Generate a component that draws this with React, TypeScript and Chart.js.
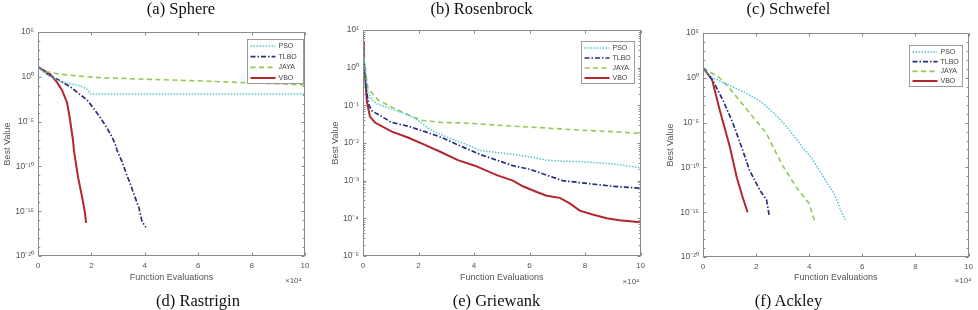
import React, { useEffect, useRef } from "react";
import { Chart, registerables } from "chart.js";

Chart.register(...registerables);

// ---------- labels ----------
const SERIES_NAMES = ["PSO", "TLBO", "JAYA", "VBO"];
const TOP_CAPTIONS = ["(a) Sphere", "(b) Rosenbrock", "(c) Schwefel"];
const BOTTOM_CAPTIONS = ["(d) Rastrigin", "(e) Griewank", "(f) Ackley"];

const X_TICK_VALUES = [0, 20000, 40000, 60000, 80000, 100000];
const X_TICK_LABELS = ["0", "2", "4", "6", "8", "10"];

const WIDE_Y_TICKS = [1e5, 1e0, 1e-5, 1e-10, 1e-15, 1e-20];
const WIDE_Y_LABELS = ["10⁵", "10⁰", "10⁻⁵", "10⁻¹⁰", "10⁻¹⁵", "10⁻²⁰"];
const ROSEN_Y_TICKS = [1e1, 1e0, 1e-1, 1e-2, 1e-3, 1e-4, 1e-5];
const ROSEN_Y_LABELS = ["10¹", "10⁰", "10⁻¹", "10⁻²", "10⁻³", "10⁻⁴", "10⁻⁵"];

// ---------- (a) Sphere ----------
const aPsoX = [0, 1500, 3400, 6000, 9000, 10900, 15700, 18000, 18700, 19500, 40000, 60000, 80000, 100000];
const aPsoY = [12.6, 5, 2.0, 0.63, 0.28, 0.2, 0.1, 0.05, 0.032, 0.012, 0.012, 0.012, 0.012, 0.012];
const aTlboX = [0, 3400, 8000, 12000, 15000, 18400, 20500, 23200, 25800, 27500, 28800, 29600, 31500, 33300, 34500, 36300, 37800, 39000, 40400];
const aTlboY = [12.6, 2.0, 0.4, 0.079, 0.016, 2.5e-3, 4e-4, 3.2e-5, 2e-6, 2.5e-7, 4e-8, 6.3e-9, 3.2e-10, 1e-11, 1.26e-12, 4e-14, 2.5e-15, 6.3e-17, 1.6e-17];
const aJayaX = [0, 2000, 3400, 8000, 15000, 23000, 42000, 61000, 80000, 100000];
const aJayaY = [12.6, 6.3, 3.7, 2.0, 1.26, 0.8, 0.52, 0.34, 0.21, 0.126];
const aVboX = [0, 4500, 7100, 9000, 10900, 12000, 13100, 13500, 15000, 16500, 17600, 18000];
const aVboY = [12.6, 2.0, 0.25, 0.032, 1.3e-3, 1.6e-5, 8e-8, 5e-9, 6.3e-12, 4e-14, 6.3e-16, 5e-17];

// ---------- (b) Rosenbrock ----------
const bPsoX = [0, 300, 700, 1400, 1800, 3200, 5000, 10400, 16200, 19800, 23400, 27000, 32000, 37800, 42100, 48200, 54000, 60100, 66200, 71900, 78100, 84200, 89900, 100000];
const bPsoY = [5.0, 2.0, 1.0, 0.4, 0.22, 0.14, 0.11, 0.079, 0.056, 0.04, 0.025, 0.018, 0.0126, 0.0089, 0.0063, 0.0056, 0.005, 0.0043, 0.0035, 0.0033, 0.0032, 0.003, 0.0028, 0.0022];
const bTlboX = [0, 300, 700, 1400, 2200, 3200, 6800, 10400, 16200, 22300, 28400, 34200, 42100, 48200, 54000, 60100, 66200, 71900, 78100, 84200, 89900, 100000];
const bTlboY = [5.0, 1.6, 0.71, 0.2, 0.1, 0.071, 0.05, 0.035, 0.028, 0.02, 0.014, 0.0089, 0.005, 0.0035, 0.0025, 0.002, 0.0014, 0.001, 8.9e-4, 7.9e-4, 7.1e-4, 6.3e-4];
const bJayaX = [0, 300, 700, 1400, 1800, 5400, 10400, 16200, 21200, 28400, 36700, 42100, 54000, 66200, 78100, 89900, 100000];
const bJayaY = [5.0, 2.0, 1.0, 0.45, 0.28, 0.14, 0.089, 0.056, 0.04, 0.035, 0.034, 0.032, 0.028, 0.025, 0.022, 0.02, 0.018];
const bVboX = [0, 300, 700, 1400, 2500, 4300, 10400, 16200, 22300, 28400, 34200, 40300, 48200, 54000, 57600, 62600, 66200, 70900, 74500, 78100, 82700, 87800, 92400, 100000];
const bVboY = [5.0, 1.6, 0.63, 0.126, 0.05, 0.035, 0.02, 0.014, 0.0089, 0.0056, 0.0035, 0.0025, 0.0014, 0.001, 7.1e-4, 5e-4, 4e-4, 3.5e-4, 2.5e-4, 1.6e-4, 1.26e-4, 1e-4, 8.9e-5, 7.9e-5];

// ---------- (c) Schwefel ----------
const cPsoX = [0, 1500, 3700, 11200, 17500, 22400, 27600, 32500, 37300, 41000, 44800, 49300, 51900, 53700];
const cPsoY = [12.6, 3.2, 1.0, 0.1, 0.0126, 1.6e-3, 6.3e-5, 1.6e-6, 2e-8, 1e-9, 1.6e-11, 1.26e-13, 1.6e-15, 1.26e-16];
const cTlboX = [0, 1000, 3700, 7500, 11200, 14600, 17500, 21300, 23900, 25000];
const cTlboY = [12.6, 6.3, 0.5, 3.2e-3, 1e-5, 1.6e-8, 5e-11, 3.2e-13, 2.5e-14, 3.2e-16];
const cJayaX = [0, 6300, 11200, 17500, 23900, 26500, 30000, 35100, 39900, 42200];
const cJayaY = [12.6, 1.0, 0.025, 1.26e-4, 6.3e-7, 1.6e-8, 1.6e-10, 6.3e-13, 1e-14, 7.9e-17];
const cVboX = [0, 3400, 6300, 10100, 12700, 14900, 16800];
const cVboY = [12.6, 0.63, 2.5e-4, 2e-8, 7.9e-12, 5e-14, 1e-15];

// ---------- styles ----------
const LINE_STYLES = [
  { color: "#55c6da", width: 1.5, dash: [1.5, 1.5] },
  { color: "#262f7e", width: 1.7, dash: [5, 2, 1.5, 2] },
  { color: "#92c955", width: 1.6, dash: [5, 3.5] },
  { color: "#b3272c", width: 2, dash: [] as number[] },
];
const AXIS_COLOR = "#8a8a8a";
const TEXT_COLOR = "#555";
const SANS = '"Liberation Sans", Arial, sans-serif';
const SERIF = '"Liberation Serif", "Times New Roman", serif';
const H = 310;
const X_BOX_BOTTOM = 283;

type Panel = {
  left: number;
  width: number;
  area: { left: number; right: number; top: number; bottom: number };
  yMin: number;
  yMax: number;
  yTicks: number[];
  yLabels: string[];
  minor: "decade" | "sub";
  xs: number[][];
  ys: number[][];
  legend: { gapRight: number; gapTop: number; w: number; h: number };
  yTitlePad: number;
  expDx: number;
  expDy: number;
};

const PANELS: Panel[] = [
  {
    left: 0, width: 320,
    area: { left: 38, right: 305, top: 32, bottom: 256 },
    yMin: 1e-20, yMax: 1e5, yTicks: WIDE_Y_TICKS, yLabels: WIDE_Y_LABELS, minor: "decade",
    xs: [aPsoX, aTlboX, aJayaX, aVboX], ys: [aPsoY, aTlboY, aJayaY, aVboY],
    legend: { gapRight: 2, gapTop: 7, w: 56, h: 44 },
    yTitlePad: 2, expDx: -3, expDy: 25,
  },
  {
    left: 320, width: 330,
    area: { left: 43, right: 321, top: 30, bottom: 256 },
    yMin: 1e-5, yMax: 1e1, yTicks: ROSEN_Y_TICKS, yLabels: ROSEN_Y_LABELS, minor: "sub",
    xs: [bPsoX, bTlboX, bJayaX, bVboX], ys: [bPsoY, bTlboY, bJayaY, bVboY],
    legend: { gapRight: 7, gapTop: 11, w: 53, h: 42 },
    yTitlePad: 10, expDx: -1, expDy: 26,
  },
  {
    left: 650, width: 328,
    area: { left: 53, right: 322, top: 33, bottom: 257 },
    yMin: 1e-20, yMax: 1e5, yTicks: WIDE_Y_TICKS, yLabels: WIDE_Y_LABELS, minor: "decade",
    xs: [cPsoX, cTlboX, cJayaX, cVboX], ys: [cPsoY, cTlboY, cJayaY, cVboY],
    legend: { gapRight: 7, gapTop: 12, w: 53, h: 41 },
    yTitlePad: 15.6, expDx: 3, expDy: 24,
  },
];

function makeDecor(p: Panel) {
  return {
    id: "mlDecor",
    afterDatasetsDraw(chart: any) {
      const { ctx, chartArea: a } = chart;
      const xs = chart.scales.x;
      const ys = chart.scales.y;
      const L = Math.round(a.left) + 0.5;
      const R = Math.round(a.right) - 0.5;
      const T = Math.round(a.top) + 0.5;
      const B = Math.round(a.bottom) - 0.5;
      ctx.save();
      ctx.setLineDash([]);
      ctx.strokeStyle = AXIS_COLOR;
      ctx.lineWidth = 1;
      ctx.strokeRect(L, T, R - L, B - T);
      ctx.beginPath();
      xs.ticks.forEach((t: any) => {
        const px = Math.round(xs.getPixelForValue(t.value)) + 0.5;
        ctx.moveTo(px, B); ctx.lineTo(px, B - 3);
        ctx.moveTo(px, T); ctx.lineTo(px, T + 3);
      });
      ys.ticks.forEach((t: any) => {
        const py = Math.round(ys.getPixelForValue(t.value)) + 0.5;
        ctx.moveTo(L, py); ctx.lineTo(L + 3, py);
        ctx.moveTo(R, py); ctx.lineTo(R - 3, py);
      });
      const lo = Math.round(Math.log10(ys.min));
      const hi = Math.round(Math.log10(ys.max));
      const minors: number[] = [];
      if (p.minor === "decade") {
        for (let e = lo + 1; e < hi; e++) if (e % 5 !== 0) minors.push(Math.pow(10, e));
      } else {
        for (let e = lo; e < hi; e++) for (let k = 2; k <= 9; k++) minors.push(k * Math.pow(10, e));
      }
      minors.forEach((v) => {
        const py = Math.round(ys.getPixelForValue(v)) + 0.5;
        ctx.moveTo(L, py); ctx.lineTo(L + 1.8, py);
        ctx.moveTo(R, py); ctx.lineTo(R - 1.8, py);
      });
      ctx.stroke();

      // legend
      const lg = p.legend;
      const bx = Math.round(a.right - lg.gapRight - lg.w) + 0.5;
      const by = Math.round(a.top + lg.gapTop) + 0.5;
      ctx.fillStyle = "#fff";
      ctx.fillRect(bx, by, lg.w, lg.h);
      ctx.strokeStyle = "#9a9a9a";
      ctx.strokeRect(bx, by, lg.w, lg.h);
      const row = (lg.h - 12) / 3;
      chart.data.datasets.forEach((ds: any, i: number) => {
        const cy = by + 6.5 + i * row;
        ctx.beginPath();
        ctx.strokeStyle = ds.borderColor;
        ctx.lineWidth = ds.borderWidth;
        ctx.setLineDash(ds.borderDash || []);
        ctx.moveTo(bx + 3, cy);
        ctx.lineTo(bx + 28, cy);
        ctx.stroke();
        ctx.setLineDash([]);
        ctx.fillStyle = "#444";
        ctx.font = `7px ${SANS}`;
        ctx.textAlign = "left";
        ctx.textBaseline = "middle";
        ctx.fillText(ds.label, bx + 31, cy);
      });

      // x10^4 multiplier
      ctx.fillStyle = TEXT_COLOR;
      ctx.font = `8px ${SANS}`;
      ctx.textAlign = "right";
      ctx.textBaseline = "middle";
      ctx.fillText("×10⁴", a.right + p.expDx, a.bottom + p.expDy);
      ctx.restore();
    },
  };
}

function ChartPanel({ p }: { p: Panel }) {
  const ref = useRef<HTMLCanvasElement | null>(null);
  useEffect(() => {
    if (!ref.current) return;
    const datasets = SERIES_NAMES.map((name, i) => ({
      label: name,
      data: p.xs[i].map((x, j) => ({ x, y: p.ys[i][j] })),
      borderColor: LINE_STYLES[i].color,
      borderWidth: LINE_STYLES[i].width,
      borderDash: LINE_STYLES[i].dash,
      pointRadius: 0,
      fill: false,
      tension: 0,
    }));
    const chart = new Chart(ref.current, {
      type: "line",
      data: { datasets },
      options: {
        animation: false,
        responsive: false,
        maintainAspectRatio: false,
        events: [],
        layout: {
          padding: {
            left: 0,
            right: p.width - p.area.right,
            top: p.area.top,
            bottom: H - X_BOX_BOTTOM,
          },
        },
        plugins: { legend: { display: false }, tooltip: { enabled: false } },
        scales: {
          x: {
            type: "linear",
            min: 0,
            max: 100000,
            afterBuildTicks: (s: any) => {
              s.ticks = X_TICK_VALUES.map((v) => ({ value: v }));
            },
            afterFit: (s: any) => {
              s.height = X_BOX_BOTTOM - p.area.bottom;
            },
            grid: { display: false, drawTicks: false },
            border: { display: false },
            ticks: {
              autoSkip: false,
              maxRotation: 0,
              padding: 5,
              color: TEXT_COLOR,
              font: { family: SANS, size: 8 },
              callback: (_v: any, i: number) => X_TICK_LABELS[i],
            },
            title: {
              display: true,
              text: "Function Evaluations",
              color: TEXT_COLOR,
              font: { family: SANS, size: 9 },
              padding: { top: 0, bottom: 0 },
            },
          },
          y: {
            type: "logarithmic",
            min: p.yMin,
            max: p.yMax,
            afterBuildTicks: (s: any) => {
              s.ticks = p.yTicks.map((v) => ({ value: v }));
            },
            afterFit: (s: any) => {
              s.width = p.area.left;
            },
            grid: { display: false, drawTicks: false },
            border: { display: false },
            ticks: {
              autoSkip: false,
              padding: 4,
              color: TEXT_COLOR,
              font: { family: SANS, size: 8.5 },
              callback: (_v: any, i: number) => p.yLabels[i],
            },
            title: {
              display: true,
              text: "Best Value",
              color: TEXT_COLOR,
              font: { family: SANS, size: 9 },
              padding: { top: p.yTitlePad, bottom: 0 },
            },
          },
        },
      } as any,
      plugins: [makeDecor(p)],
    });
    return () => chart.destroy();
  }, [p]);
  return (
    <canvas
      ref={ref}
      width={p.width}
      height={H}
      style={{ position: "absolute", left: p.left, top: 0, width: p.width, height: H }}
    />
  );
}

const CAPTION_X = [181, 481.5, 788.5];
const CAPTION_X_BOTTOM = [198, 496.5, 788.5];

export default function App() {
  const capStyle = (x: number, top: number): React.CSSProperties => ({
    position: "absolute",
    left: x,
    top,
    transform: "translateX(-50%)",
    whiteSpace: "nowrap",
    fontFamily: SERIF,
    fontSize: "16.5px",
    lineHeight: "16.5px",
    color: "#111",
  });
  return (
    <div style={{ position: "absolute", left: 0, top: 0, width: 978, height: 310, background: "#fff", overflow: "hidden" }}>
      {PANELS.map((p, i) => (
        <ChartPanel key={i} p={p} />
      ))}
      {TOP_CAPTIONS.map((t, i) => (
        <div key={"t" + i} style={capStyle(CAPTION_X[i], 0.8)}>{t}</div>
      ))}
      {BOTTOM_CAPTIONS.map((t, i) => (
        <div key={"b" + i} style={capStyle(CAPTION_X_BOTTOM[i], 292.6)}>{t}</div>
      ))}
    </div>
  );
}
